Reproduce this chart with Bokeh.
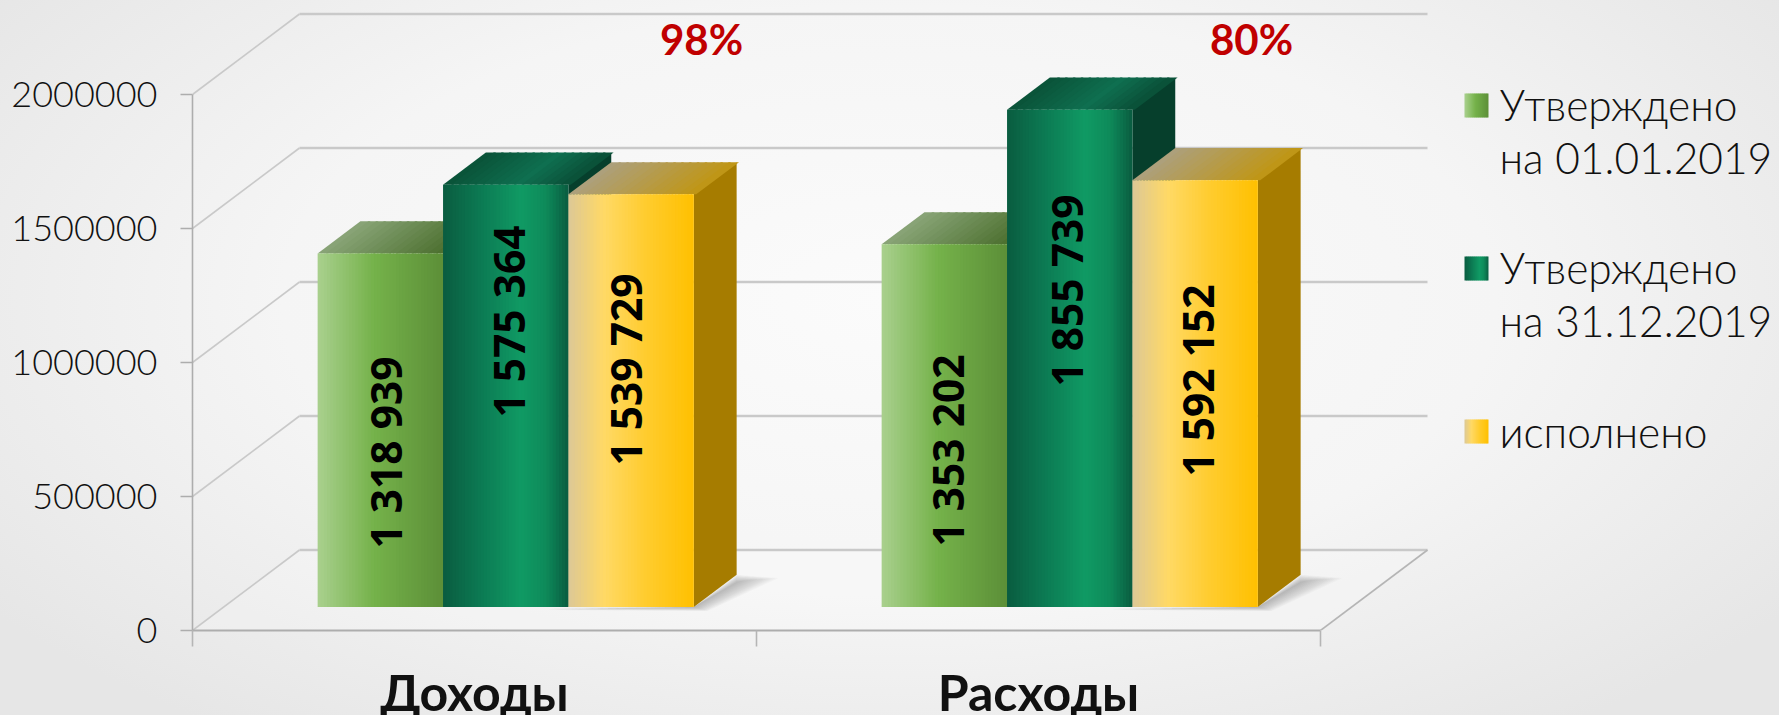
from bokeh.embed import file_html
from bokeh.resources import INLINE
from bokeh.plotting import figure
from bokeh.models import Range1d, FixedTicker, NumeralTickFormatter, LinearAxis
from bokeh.core.properties import value as V
import math

# ---- data ----
CATEGORIES = ["Доходы", "Расходы"]
SERIES = ["Утверждено на 01.01.2019", "Утверждено на 31.12.2019", "исполнено"]
PLAN_START = [1318939, 1353202]
PLAN_END = [1575364, 1855739]
EXECUTED = [1539729, 1592152]
PERCENTS = ["98%", "80%"]
Y_TICKS = [0, 500000, 1000000, 1500000, 2000000]
LEGEND_LINES = [["Утверждено", "на 01.01.2019"], ["Утверждено", "на 31.12.2019"], ["исполнено"]]

# ---- layout (page pixels) ----
W, H = 1779, 715
AX_X, AX_Y = 192, 630
PX_PER_CAT = 564
PX_PER_VAL = 134 / 500000
DX = 107 / PX_PER_CAT
DY = 80.5 / PX_PER_VAL
BAR_W = 125.4 / PX_PER_CAT
BAR_D0, BAR_D = 0.292, 0.40

def X(px): return (px - AX_X) / PX_PER_CAT
def Y(py): return (AX_Y - py) / PX_PER_VAL

LABEL_CX = [[385, 508, 625], [947, 1066, 1197]]
LABEL_CY = [[452, 321, 369], [450, 290, 380]]
PERCENT_POS = [(701, 38), (1251, 38)]

# ---- styles ----
GRAD = [
    [(0, "#a9d08e"), (.45, "#75b24a"), (1, "#5c8f38")],
    [(0, "#0a5c40"), (.3, "#0c7a53"), (.62, "#109a64"), (.82, "#0e8a5a"), (1, "#0a5c40")],
    [(0, "#dcc896"), (.28, "#ffd966"), (.62, "#ffcc2e"), (1, "#ffc000")],
]
TOP_GRAD = [
    [(0, "#8aa578"), (1, "#4b6f2e")],
    [(0, "#0a5238"), (.6, "#0f6f50"), (1, "#0a4f37")],
    [(0, "#aca07e"), (1, "#c09614")],
]
SIDE = ["#47682b", "#063f2c", "#a67c00"]

def h2r(h): return [int(h[i:i + 2], 16) for i in (1, 3, 5)]
def grad(stops, t):
    for (a, ca), (b, cb) in zip(stops, stops[1:]):
        if t <= b:
            f = (t - a) / (b - a)
            x, y = h2r(ca), h2r(cb)
            return "#%02x%02x%02x" % tuple(round(p + (q - p) * f) for p, q in zip(x, y))
    return stops[-1][1]

p = figure(width=W, height=H, output_backend="svg", toolbar_location=None,
           x_range=Range1d(0, X(W)), y_range=Range1d(0, Y(0)),
           frame_width=W - AX_X, frame_height=AX_Y,
           min_border_left=AX_X, min_border_right=0, min_border_top=0, min_border_bottom=H - AX_Y,
           background_fill_alpha=0, border_fill_alpha=0, outline_line_color=None,
           x_axis_type=None, y_axis_type=None)
p.grid.visible = False

# floor
end = len(CATEGORIES)
p.patch([0, end, end + DX, DX], [0, 0, DY, DY], fill_color="#ffffff", fill_alpha=.2, line_color=None)

# grid
GRID = "#c9c9c9"
p.segment([0] * 5, Y_TICKS, [DX] * 5, [t + DY for t in Y_TICKS], line_color=GRID, line_width=1.6)
p.segment([DX] * 5, [t + DY for t in Y_TICKS], [end + DX] * 5, [t + DY for t in Y_TICKS], line_color=GRID, line_width=2.4)
p.segment([end], [0], [end + DX], [DY], line_color="#b5b5b5", line_width=1.6)

# axes
yax = LinearAxis(ticker=FixedTicker(ticks=Y_TICKS), formatter=NumeralTickFormatter(format="0"), bounds=(0, 2000000))
yax.major_tick_out, yax.major_tick_in = 12, 0
yax.minor_tick_line_color = None
yax.axis_line_color = yax.major_tick_line_color = "#adadad"
yax.axis_line_width = yax.major_tick_line_width = 1.6
yax.major_label_text_font = "Lato Light"
yax.major_label_text_font_size = "36px"
yax.major_label_text_color = "#111111"
yax.major_label_standoff = 23
p.add_layout(yax, "left")

xax = LinearAxis(ticker=FixedTicker(ticks=[i + .5 for i in range(end)], minor_ticks=list(range(end + 1))),
                 bounds=(0, end),
                 major_label_overrides={i + .5: c for i, c in enumerate(CATEGORIES)})
xax.major_tick_line_color = None
xax.minor_tick_out, xax.minor_tick_in = 16, 0
xax.minor_tick_line_color = "#b5b5b5"
xax.minor_tick_line_width = 1.6
xax.axis_line_color = "#adadad"
xax.axis_line_width = 2.2
xax.major_label_text_font = "Lato"
xax.major_label_text_font_style = "bold"
xax.major_label_text_font_size = "50px"
xax.major_label_text_color = "#111111"
xax.major_label_standoff = 15
p.add_layout(xax, "below")

values = [PLAN_START, PLAN_END, EXECUTED]
STRIPS = 40

# bars
for g in range(end):
    x0 = g + .5 - 1.5 * BAR_W + BAR_D0 * DX
    base = BAR_D0 * DY
    # soft floor shadow
    xr = x0 + 3 * BAR_W
    LAYERS = 14
    for k in range(LAYERS):
        e = (k + 1) / LAYERS
        p.patch([xr, xr + BAR_D * DX, xr + BAR_D * DX + e * 42 / PX_PER_CAT, xr + e * 14 / PX_PER_CAT, xr - BAR_W * 1.2],
                [base, base + BAR_D * DY * (.75 + .25 * e), base + BAR_D * DY * (.8 + .1 * e),
                 base - e * 4 / PX_PER_VAL, base - e * 3 / PX_PER_VAL],
                fill_color="#444444", fill_alpha=.027, line_color=None)
    for s in range(3):
        val = values[s][g]
        xl = x0 + s * BAR_W
        top = val + base
        # side
        p.patch([xl + BAR_W, xl + BAR_W + BAR_D * DX, xl + BAR_W + BAR_D * DX, xl + BAR_W],
                [base, base + BAR_D * DY, top + BAR_D * DY, top],
                fill_color=SIDE[s], line_color=None)
        # top face
        n = 16
        xs, ys, cs = [], [], []
        for i in range(n):
            a, b = xl + BAR_W * i / n, xl + BAR_W * (i + 1.3) / n
            xs.append([a, b, b + BAR_D * DX, a + BAR_D * DX])
            ys.append([top, top, top + BAR_D * DY, top + BAR_D * DY])
            cs.append(grad(TOP_GRAD[s], (i + .5) / n))
        p.patches(xs, ys, fill_color=cs, line_color=None)
        # front face
        w = BAR_W / STRIPS
        p.quad(left=[xl + i * w for i in range(STRIPS)],
               right=[xl + (i + 1.4) * w if i < STRIPS - 1 else xl + BAR_W for i in range(STRIPS)],
               bottom=[base] * STRIPS, top=[top] * STRIPS,
               fill_color=[grad(GRAD[s], (i + .5) / STRIPS) for i in range(STRIPS)], line_color=None)

# value labels
for g in range(end):
    for s in range(3):
        v = values[s][g]
        txt = f"{v:,}".replace(",", " ")
        p.text([X(LABEL_CX[g][s])], [Y(LABEL_CY[g][s])], text=[txt], angle=math.pi / 2,
               text_font=V("Open Sans"), text_font_style="bold", text_font_size="42.5px",
               text_color="#000000", text_align="center", text_baseline="middle")

# percent labels
for (px, py), t in zip(PERCENT_POS, PERCENTS):
    p.text([X(px)], [Y(py)], text=[t], text_font=V("Lato"), text_font_style="bold",
           text_font_size="42px", text_color="#c00000", text_align="center", text_baseline="middle")

# legend
SW_Y = [93, 256, 419]
TXT_Y = [[104, 157], [267, 320], [431]]
for s in range(3):
    n = 12
    w = 24 / n
    p.quad(left=[X(1464 + i * w) for i in range(n)], right=[X(1464 + (i + 1.4) * w) if i < n - 1 else X(1488) for i in range(n)],
           bottom=[Y(SW_Y[s] + 24)] * n, top=[Y(SW_Y[s])] * n,
           fill_color=[grad(GRAD[s], (i + .5) / n) for i in range(n)], line_color=None)
    for line, ty in zip(LEGEND_LINES[s], TXT_Y[s]):
        p.text([X(1499)], [Y(ty)], text=[line], text_font=V("Lato Light"), text_font_size="42.5px",
               text_color="#111111", text_align="left", text_baseline="middle")

STYLE = """<style>
html,body{margin:0!important;padding:0!important;overflow:hidden;width:1779px;height:715px;
background:radial-gradient(ellipse 62% 75% at 50% 42%,#fbfbfb 0%,#f5f5f5 55%,#e6e6e6 100%)!important}
</style>"""

html = file_html(p, INLINE)
open("out.html", "w").write(html.replace("</head>", STYLE + "</head>", 1))
